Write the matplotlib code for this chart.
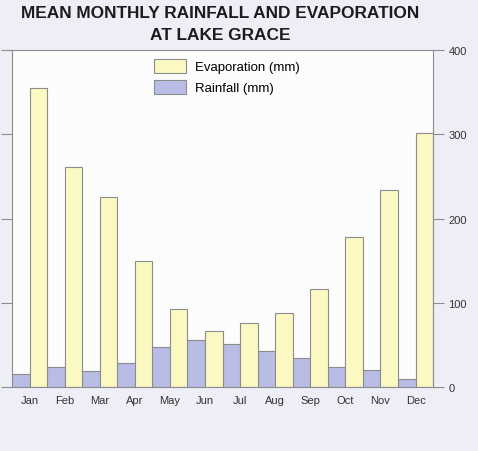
import matplotlib.pyplot as plt
import numpy as np

months = ['Jan', 'Feb', 'Mar', 'Apr', 'May', 'Jun', 'Jul', 'Aug', 'Sep', 'Oct', 'Nov', 'Dec']
rainfall = [16, 24, 19, 28, 48, 56, 51, 43, 34, 24, 20, 10]
evaporation = [355, 261, 226, 150, 93, 66, 76, 88, 116, 178, 234, 302]
yticks = [0, 100, 200, 300, 400]

plt.rcParams['font.family'] = ['Liberation Sans', 'DejaVu Sans']

fig = plt.figure(figsize=(4.78, 4.52), dpi=100, facecolor='#eeeef6')
ax = fig.add_axes([0.0251, 0.1416, 0.881, 0.7454])
ax.set_facecolor('#fcfcfd')

x = np.arange(len(months))
w = 0.5
edge = '#8c8c8c'
ax.bar(x - w / 2, rainfall, w, color='#b9bde6', edgecolor=edge, linewidth=0.8,
       label='Rainfall (mm)', zorder=2)
ax.bar(x + w / 2, evaporation, w, color='#fbf8c2', edgecolor=edge, linewidth=0.8,
       label='Evaporation (mm)', zorder=2)

ax.set_xlim(-0.5, len(months) - 0.5)
ax.set_ylim(0, 400)
ax.set_xticks(x)
ax.set_xticklabels(months, fontsize=8, color='#333333')
ax.tick_params(axis='x', length=0, pad=6)

ax.set_yticks(yticks)
ax.tick_params(axis='y', which='both', direction='out', length=8, width=0.8,
               color=edge, labelsize=8, labelcolor='#333333',
               left=True, right=True, labelleft=False, labelright=True, pad=3)
for s in ax.spines.values():
    s.set_color(edge)
    s.set_linewidth(0.8)

handles, labels = ax.get_legend_handles_labels()
ax.legend(handles[::-1], labels[::-1], loc='upper center', bbox_to_anchor=(0.51, 1.008),
          frameon=False, fontsize=9.5, handlelength=2.4, handleheight=1.2,
          handletextpad=0.7, labelspacing=0.5)

fig.text(0.46, 0.986, 'MEAN MONTHLY RAINFALL AND EVAPORATION\nAT LAKE GRACE',
         ha='center', va='top', fontsize=12.4, fontweight='bold', color='#1c1c1c',
         linespacing=1.55)

fig.savefig('out.png', dpi=100, facecolor=fig.get_facecolor())
